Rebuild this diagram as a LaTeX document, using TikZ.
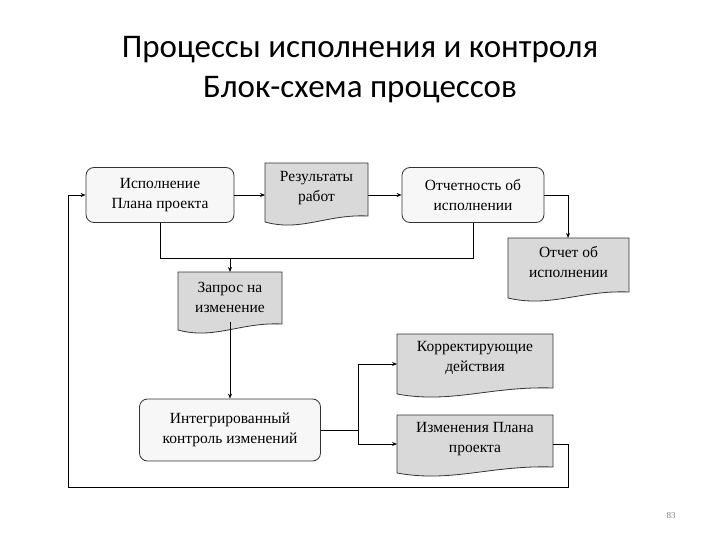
\documentclass[tikz,border=0pt]{standalone}
\usepackage{fontspec}
\setmainfont{Liberation Serif}
\newfontfamily\titlefont{Carlito}
\usetikzlibrary{arrows.meta,calc}
\tikzset{
 proc/.style={draw=black!80,line width=0.8pt,rounded corners=8pt,fill=gray!6,align=center,font=\fontsize{15.5}{20}\selectfont,inner sep=0pt},
 docn/.style={align=center,font=\fontsize{15.5}{20}\selectfont,inner sep=0pt},
 docsh/.style={draw=black!80,line width=0.8pt,fill=gray!30},
 conn/.style={line width=0.9pt,-{Stealth[length=5pt,width=4pt]}},
 plain/.style={line width=0.9pt}
}
\newcommand{\docbox}[5]{% name, x1,y1,x2,y2
 \path[docsh] (#2,#3) -- (#4,#3) -- (#4,#5-6) .. controls ($(#4,#5-6)+(-0.4*#4+0.4*#2,-2)$) and ($(#2,#5+10)+(0.35*#4-0.35*#2,0)$) .. (#2,#5) -- cycle;
}
\begin{document}
\begin{tikzpicture}[x=1pt,y=-1pt]
\useasboundingbox (0,0) rectangle (720,540);
\node[font=\titlefont\fontsize{33}{40}\selectfont,align=center] (title) at (360,70) {Процессы исполнения и контроля\\Блок-схема процессов};
\node[proc,minimum width=148,minimum height=55] (exec) at (160,195) {Исполнение\\Плана проекта};
\node[proc,minimum width=142,minimum height=55] (rep) at (473,195) {Отчетность об\\исполнении};
\node[proc,minimum width=181,minimum height=62] (icc) at (230,430) {Интегрированный\\контроль изменений};
\docbox{res}{265}{163}{368}{222}
\node[docn,minimum width=103,minimum height=50] (res) at (316.5,188) {Результаты\\работ};
\docbox{rpt}{508}{238}{629}{298}
\node[docn,minimum width=121,minimum height=50] (rpt) at (568.5,262) {Отчет об\\исполнении};
\docbox{req}{178}{272}{282}{330}
\node[docn,minimum width=104,minimum height=50] (req) at (230,297) {Запрос на\\изменение};
\docbox{cor}{397}{334}{553}{394}
\node[docn,minimum width=156,minimum height=50] (cor) at (475,358) {Корректирующие\\действия};
\docbox{chg}{397}{415}{553}{473}
\node[docn,minimum width=156,minimum height=50] (chg) at (475,439) {Изменения Плана\\проекта};
\node[font=\fontsize{9}{10}\selectfont,text=gray] (pg) at (671,516) {83};
\coordinate (ch) at (230,258);
\draw[conn] (exec.east) -- (265,195);
\draw[conn] (368,195) -- (rep.west);
\draw[conn] (rep.east) -- (568,195) -- (568,238);
\draw[plain] (exec.south) -- (160,258) -- (473,258) -- (rep.south);
\draw[conn] (ch) -- (230,272);
\draw[conn] (230,322) -- (icc.north);
\coordinate (br) at (358,430);
\draw[plain] (icc.east) -- (br);
\draw[conn] (br) -- (358,364) -- (397,364);
\draw[conn] (br) -- (358,444) -- (397,444);
\draw[conn] (553,444) -- (568,444) -- (568,487) -- (68,487) -- (68,195) -- (exec.west);
\end{tikzpicture}
\end{document}
